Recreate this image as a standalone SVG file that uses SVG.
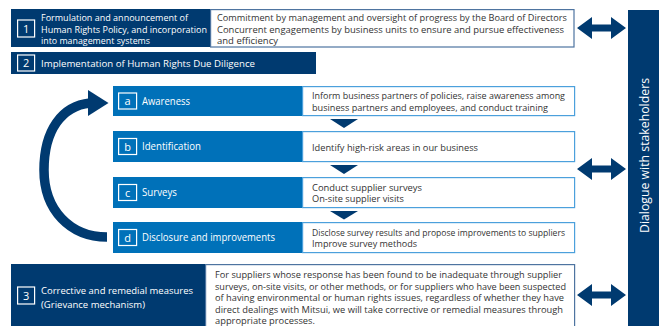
<svg xmlns="http://www.w3.org/2000/svg" width="664" height="326" viewBox="0 0 664 326">
<defs>
<style>
.navy{fill:#003a70}
.blue{fill:#0071b9}
.wbox{fill:#fff;stroke:#4e74a0;stroke-width:1.2}
.lbox{fill:#fff;stroke:#4ba0dc;stroke-width:1.2}
.sq{fill:none;stroke:#fff;stroke-width:1.2}
text{font-family:"Open Sans","Noto Sans",sans-serif}
.lab{fill:#fff;font-size:9.8px}
.rl{fill:#fff;font-size:10px}
.body{fill:#333;font-size:9.5px}
.n{fill:#fff;font-size:11px;text-anchor:middle}
.conn{fill:#003a70}
</style>
</defs>
<rect width="664" height="326" fill="#fff"/>

<g id="step1">
<rect class="navy" x="11" y="9" width="200" height="38"/>
<rect class="wbox" x="210.6" y="9.6" width="363.4" height="37.4"/>
<rect class="sq" x="17.6" y="20" width="17" height="17"/>
<text class="n" x="26.1" y="32.5">1</text>
<text class="lab" x="41" y="20.5" textLength="147" lengthAdjust="spacingAndGlyphs">Formulation and announcement of</text>
<text class="lab" x="41" y="32.5" textLength="166" lengthAdjust="spacingAndGlyphs">Human Rights Policy, and incorporation</text>
<text class="lab" x="41" y="44" textLength="109" lengthAdjust="spacingAndGlyphs">into management systems</text>
<text class="body" x="217" y="20.5" textLength="350" lengthAdjust="spacingAndGlyphs">Commitment by management and oversight of progress by the Board of Directors</text>
<text class="body" x="217" y="32.5" textLength="347" lengthAdjust="spacingAndGlyphs">Concurrent engagements by business units to ensure and pursue effectiveness</text>
<text class="body" x="217" y="44" textLength="61" lengthAdjust="spacingAndGlyphs">and efficiency</text>
</g>

<g id="step2">
<rect class="navy" x="11" y="52" width="305" height="22"/>
<rect class="sq" x="17.6" y="55" width="17" height="16"/>
<text class="n" x="26.1" y="67">2</text>
<text class="lab" x="41" y="67" textLength="214" lengthAdjust="spacingAndGlyphs">Implementation of Human Rights Due Diligence</text>
</g>

<g id="stepA">
<rect class="blue" x="113" y="86" width="190" height="30"/>
<rect class="lbox" x="302.6" y="86.6" width="272" height="29"/>
<rect class="sq" x="118.6" y="93" width="18" height="16"/>
<text class="n" x="127.6" y="105">a</text>
<text class="rl" x="142" y="104.5" textLength="48" lengthAdjust="spacingAndGlyphs">Awareness</text>
<text class="body" x="312" y="99" textLength="253" lengthAdjust="spacingAndGlyphs">Inform business partners of policies, raise awareness among</text>
<text class="body" x="312" y="110.5" textLength="236" lengthAdjust="spacingAndGlyphs">business partners and employees, and conduct training</text>
</g>

<g id="stepB">
<rect class="blue" x="113" y="131" width="190" height="31"/>
<rect class="lbox" x="302.6" y="131.6" width="272" height="30"/>
<rect class="sq" x="118.6" y="138.5" width="18" height="16"/>
<text class="n" x="127.6" y="150.5">b</text>
<text class="rl" x="142" y="150" textLength="59" lengthAdjust="spacingAndGlyphs">Identification</text>
<text class="body" x="312" y="151" textLength="166" lengthAdjust="spacingAndGlyphs">Identify high-risk areas in our business</text>
</g>

<g id="stepC">
<rect class="blue" x="113" y="177" width="190" height="31"/>
<rect class="lbox" x="302.6" y="177.6" width="272" height="30"/>
<rect class="sq" x="118.6" y="184.5" width="18" height="16"/>
<text class="n" x="127.6" y="196.5">c</text>
<text class="rl" x="142" y="196" textLength="35" lengthAdjust="spacingAndGlyphs">Surveys</text>
<text class="body" x="312" y="190.5" textLength="110" lengthAdjust="spacingAndGlyphs">Conduct supplier surveys</text>
<text class="body" x="312" y="202" textLength="92" lengthAdjust="spacingAndGlyphs">On-site supplier visits</text>
</g>

<g id="stepD">
<rect class="blue" x="113" y="222" width="190" height="31"/>
<rect class="lbox" x="302.6" y="222.6" width="272" height="30"/>
<rect class="sq" x="118.6" y="229.5" width="18" height="16"/>
<text class="n" x="127.6" y="241.5">d</text>
<text class="rl" x="142" y="241" textLength="133" lengthAdjust="spacingAndGlyphs">Disclosure and improvements</text>
<text class="body" x="312" y="235.5" textLength="253" lengthAdjust="spacingAndGlyphs">Disclose survey results and propose improvements to suppliers</text>
<text class="body" x="312" y="247" textLength="105" lengthAdjust="spacingAndGlyphs">Improve survey methods</text>
</g>

<g id="step3">
<rect class="navy" x="11" y="264" width="195" height="70"/>
<rect class="wbox" x="205.6" y="264.6" width="369" height="70"/>
<rect class="sq" x="17.6" y="287" width="17" height="17"/>
<text class="n" x="26.1" y="299.5">3</text>
<text class="lab" x="41" y="294" textLength="152" lengthAdjust="spacingAndGlyphs">Corrective and remedial measures</text>
<text class="lab" x="41" y="308" textLength="104" lengthAdjust="spacingAndGlyphs">(Grievance mechanism)</text>
<text class="body" x="215" y="278" textLength="347" lengthAdjust="spacingAndGlyphs">For suppliers whose response has been found to be inadequate through supplier</text>
<text class="body" x="215" y="289.5" textLength="351" lengthAdjust="spacingAndGlyphs">surveys, on-site visits, or other methods, or for suppliers who have been suspected</text>
<text class="body" x="215" y="301" textLength="349" lengthAdjust="spacingAndGlyphs">of having environmental or human rights issues, regardless of whether they have</text>
<text class="body" x="215" y="312.5" textLength="348" lengthAdjust="spacingAndGlyphs">direct dealings with Mitsui, we will take corrective or remedial measures through</text>
<text class="body" x="215" y="324" textLength="100" lengthAdjust="spacingAndGlyphs">appropriate processes.</text>
</g>

<g id="dialogue">
<rect class="navy" x="628" y="10" width="31" height="320"/>
<text transform="translate(648.5,155.5) rotate(-90)" fill="#fff" font-size="13" text-anchor="middle" textLength="155" lengthAdjust="spacingAndGlyphs">Dialogue with stakeholders</text>
</g>

<g id="connectors">
<path d="M107,237 C70,237 44,210 44,170 C44,130 62,106 90,103" fill="none" stroke="#003a70" stroke-width="9.5"/>
<polygon class="conn" points="88,90 108.5,103 88,116"/>
<polygon class="conn" points="330,119 358,119 344,128"/>
<polygon class="conn" points="330,165 358,165 344,174"/>
<polygon class="conn" points="330,211 358,211 344,219.5"/>
<polygon class="conn" points="577,28 592,17 592,24.5 611,24.5 611,17 626,28 611,39 611,31.5 592,31.5 592,39"/>
<polygon class="conn" points="577,169 592,158 592,165.5 611,165.5 611,158 626,169 611,180 611,172.5 592,172.5 592,180"/>
<polygon class="conn" points="577,295 592,284 592,291.5 611,291.5 611,284 626,295 611,306 611,298.5 592,298.5 592,306"/>
</g>
</svg>
